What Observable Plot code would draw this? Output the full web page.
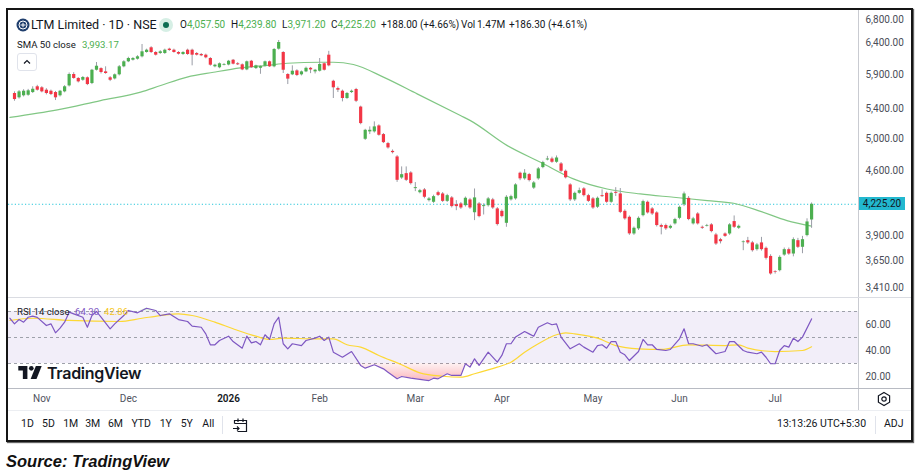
<!DOCTYPE html>
<html><head><meta charset="utf-8">
<script src="https://cdn.jsdelivr.net/npm/d3@7"></script>
<script src="https://cdn.jsdelivr.net/npm/@observablehq/plot@0.6"></script>
<style>
body{margin:0;background:#fff;width:916px;height:475px;position:relative;overflow:hidden;font-family:Roboto,"DejaVu Sans",sans-serif;color:#131722}
.abs{position:absolute;white-space:nowrap;line-height:1}
.g{color:#4caf50}
.tb{position:absolute;top:419px;font-size:10.5px;color:#131722;transform:translateX(-50%);line-height:1}
.hd{position:absolute;white-space:nowrap;line-height:1;top:20px;font-size:10px;color:#131722}
</style></head><body>
<div id="price" class="abs" style="left:8px;top:8px"></div>
<div id="rsi" class="abs" style="left:8px;top:298px"></div>
<div id="overlay"></div>
<script>
// ---------- data ----------
const open = [5620,5558,5587,5595,5634,5718,5703,5668,5653,5634, 5587,5644,5731,5902,5842,5815,5852,5766,5967,5992, 5942,5852,5835,5897,6020,6098,6123,6139,6177,6246, 6322,6246,6230,6230,6300,6283,6246,6214,6283,6283, 6230,6214,6203,6150,6020,6005,6045,6048,6123,6067, 6051,5972,6107,5992,5997,6029,6098,6020,6300,6246, 5902,5897,5957,5897,5942,5997,5942,5952,6067,6203, 5800,5692,5653,5548,5634,5678,5427,4995,5091,5091, 5170,5056,4940,4842,4773,4521,4572,4580,4399,4353, 4384,4265,4247,4353,4339,4257,4295,4221,4229,4210, 4273,4134,4229,4200,4210,4273,4175,4149,4023,4273, 4284,4577,4511,4561,4405,4511,4644,4736,4748,4708, 4688,4600,4441,4273,4346,4396,4320,4284,4193,4320, 4346,4247,4357,4339,4149,4086,3914,3966,4103,4247, 4175,4132,4000,4000,3972,4017,4075,4219,4290,4017, 4121,3982,3993,4007,3904,3857,3914,3914,4041,3972, 3828,3847,3825,3759,3825,3772,3694,3552,3561,3707, 3759,3717,3847,3782,3898,4057.5];
const high = [5644,5663,5675,5680,5718,5740,5720,5690,5670,5650, 5665,5735,5925,5930,5855,5870,5865,5980,6087,6005, 6020,5870,5910,6040,6115,6170,6165,6195,6376,6300, 6340,6260,6275,6300,6315,6300,6260,6260,6300,6300, 6245,6230,6220,6165,6060,6080,6070,6120,6135,6085, 6065,6110,6120,6045,6035,6110,6110,6310,6442,6260, 5915,6035,5975,5955,6015,6010,5980,6150,6080,6265, 5815,5715,5670,5635,5670,5695,5440,5125,5157,5224, 5185,5070,4955,4860,4790,4652,4652,4595,4468,4390, 4400,4300,4325,4370,4355,4335,4310,4265,4245,4305, 4290,4395,4245,4230,4300,4290,4190,4165,4320,4325, 4455,4590,4620,4575,4480,4645,4720,4780,4770,4785, 4705,4615,4455,4360,4405,4410,4335,4300,4305,4385, 4360,4360,4410,4400,4165,4100,3985,4090,4270,4260, 4190,4145,4015,4015,4005,4075,4205,4360,4310,4085, 4135,3995,4012,4020,3920,3870,3925,4020,4100,4005, 3845,3880,3840,3820,3880,3785,3710,3560,3700,3775, 3775,3875,3870,3890,4070,4239.8];
const low = [5509,5540,5570,5580,5620,5655,5630,5600,5590,5519, 5570,5630,5715,5830,5775,5800,5735,5750,5955,5910, 5905,5795,5820,5880,6005,6085,6110,6125,6160,6235, 6230,6190,6215,6215,6265,6235,6205,6200,6200,6035, 6190,6180,6145,6030,6005,5990,6035,6035,6050,6040, 5960,5960,5995,5980,5905,6015,6010,6005,6285,5917, 5751,5885,5870,5880,5930,5915,5910,5940,5955,6020, 5548,5634,5500,5535,5620,5490,5185,4980,5056,5075, 5035,4940,4870,4810,4470,4505,4480,4440,4365,4340, 4285,4250,4235,4310,4245,4245,4185,4156,4170,4195, 4170,4051,4080,4110,4195,4170,3995,4080,3982,4260, 4270,4490,4495,4475,4390,4495,4630,4725,4695,4695, 4585,4510,4255,4255,4335,4305,4245,4170,4180,4300, 4235,4235,4310,4125,4055,3900,3900,3950,4090,4120, 4105,3985,3905,3950,3960,4005,4060,4200,4050,4005, 4005,3960,3985,3925,3800,3815,3880,3900,3970,3960, 3749,3810,3735,3745,3745,3660,3520,3530,3550,3695, 3705,3690,3770,3720,3885,3971.2];
const close = [5533,5644,5653,5659,5682,5668,5644,5620,5605,5558, 5653,5718,5902,5842,5791,5857,5751,5967,6029,5932, 5917,5815,5897,6020,6098,6150,6150,6177,6257,6283, 6246,6203,6257,6283,6278,6246,6219,6246,6214,6203, 6203,6193,6161,6045,6045,6067,6056,6107,6061,6051, 5972,6098,6007,6035,6023,6098,6020,6294,6409,5967, 5832,5952,5887,5942,5997,5972,5967,6056,5967,6035, 5703,5668,5548,5620,5653,5509,5201,5112,5112,5157, 5047,4952,4885,4826,4494,4560,4494,4456,4410,4376, 4302,4284,4309,4323,4257,4320,4200,4200,4185,4291, 4185,4295,4093,4210,4284,4185,4010,4093,4302,4309, 4441,4511,4577,4491,4464,4628,4704,4748,4708,4760, 4600,4523,4273,4346,4376,4320,4257,4185,4291,4309, 4247,4346,4346,4138,4069,3915,3972,4075,4254,4132, 4121,4000,3982,3966,3992,4062,4192,4339,4062,4069, 4017,3972,4000,3938,3814,3837,3890,4007,3982,3992, 3835,3825,3749,3805,3759,3676,3531,3546,3685,3759, 3717,3857,3782,3857,4037.2,4225.2];

const smaIdx = [0,10.4,19.9,28.7,33.1,38.9,44.7,50.6,56.5,60.9,68.2,71,75.4,82,89.4,98.9,101.1,109.2,116.5,123.7,131.1,138.4,145.7,153.1,158.9,164.8,170.6,176];
const smaVal = [5285,5388,5519,5639,5737,5862,5936,6003,6043,6075,6091,6091,6056,5862,5615,5310,5241,4914,4708,4511,4395,4339,4302,4265,4236,4149,4051,3993.17];

const rsiIdx = [0,1,2,3,4,5,6,8,9,10,11,12,13,14,16,17,18,19,20,22,23,25,26,28,30,32,33,35,37,39,40,42,43,44,45,46,48,49,51,52,53,54,55,56,57,58,59,60,61,62,64,65,67,68,69,70,71,73,75,77,78,80,82,83,85,86,88,92,93,94,96,97,99,100,101,102,103,105,107,108,109,110,111,113,114,115,116,118,119,120,121,123,125,126,128,129,130,131,132,133,134,135,136,138,139,140,141,142,144,145,147,148,149,150,152,153,155,157,158,159,161,162,164,165,166,167,168,169,170,171,172,173,174,176];
const rsiVal = [64.8,60.5,63.8,61.8,65.6,66.4,65.5,59.2,60.5,53.6,57.2,61.8,69.5,68.2,65.6,57.9,66.9,70,65.6,56.7,60.5,66.9,70.8,69,72.5,70.8,66.9,68.2,63.8,62.3,58.7,57.9,52.8,44.4,44.4,47.7,51,46.9,41.8,51,45.9,46.9,44.4,52.1,48.5,60.5,65.6,45.2,41.3,45.2,43.8,47.7,49.5,51,47.7,50.3,38.7,34.8,39.2,28.5,26.4,29,25.9,23.3,18.2,20,18.7,16.9,18.7,18.2,22.1,20.8,20.8,29.8,27.2,33.6,28.5,38.7,31,36.2,45.2,45.2,50.3,54.6,52.8,51,57.9,61.3,59.8,60.5,50.3,41.3,45.2,42.6,38.7,43.8,44.4,41.8,46.9,46.9,38.7,36.7,32.3,39.2,48.5,44.4,44.4,40.8,40,40.8,49,56.7,45.2,45.2,43.3,44.4,37.5,39.2,46.9,46.9,40,38.7,37.5,38.7,34.8,29.8,29.8,40,43.8,42.6,49.5,46.9,50.3,64.3];

const maIdx = [0,5,13,24,29,33,37,40,45,49,54,57,60,67,71,74,77,81,86,90,95,99,102,107,110,113,116,120,122,124,129,133,138,143,149,157,160,162,168,174,176];
const maVal = [63.1,64.8,63.1,62.3,64.8,66.9,68.2,66.9,61.8,56.7,51,48.5,49.5,49,49,44.4,42.6,36.2,29,22.8,20.2,19.5,22.1,27.2,31,38.7,45.2,52.1,53.6,52.8,49.5,43.8,41.3,40.8,44.4,43.8,44.4,41.8,39.2,40,42.86];

const priceTicks = [6800,6400,5900,5400,5000,4600,3900,3650,3410];
const rsiTicks = [60,40,20];
const rsiLevels = [70,50,30];
const monthIdx = [7,26,68,89,108,128,147,168];
const monthLabels = ["Nov","Dec","Feb","Mar","Apr","May","Jun","Jul"];
const yearIdx = [48];
const yearLabels = ["2026"];
const lastPrice = 4225.20;

// ---------- tables ----------
const candles = close.map((c,k)=>({i:k+1,o:open[k],h:high[k],l:low[k],c}));
const up = candles.filter(d=>d.c>=d.o), dn = candles.filter(d=>d.c<d.o);
const sma = smaIdx.map((i,k)=>({i,v:smaVal[k]}));
const rsi = rsiIdx.map((i,k)=>({i,v:rsiVal[k]}));
const rsiMa = maIdx.map((i,k)=>({i,v:maVal[k]}));
const xDomain = [-0.317, 186.3];
const GREEN="#4caf50", RED="#f23645";

const pricePlot = Plot.plot({
  width:900, height:289, marginLeft:0, marginRight:50, marginTop:11, marginBottom:10,
  x:{domain:xDomain, axis:null},
  y:{type:"log", domain:[3410,6800], axis:null},
  style:{fontFamily:"Roboto", background:"transparent", overflow:"visible", color:"#50535e"},
  marks:[
    Plot.ruleY([lastPrice], {stroke:"#26c6da", strokeDasharray:"1.2,2.2", strokeWidth:1}),
    Plot.line(sma, {x:"i", y:"v", stroke:"#81c784", strokeWidth:1.2, curve:"monotone-x"}),
    Plot.ruleX(candles, {x:"i", y1:"l", y2:"h", stroke:"#9a9da6", strokeWidth:1}),
    Plot.ruleX(up, {x:"i", y1:"o", y2:"c", stroke:GREEN, strokeWidth:3.2}),
    Plot.ruleX(dn, {x:"i", y1:"o", y2:"c", stroke:RED, strokeWidth:3.2}),
    Plot.axisY(priceTicks, {anchor:"right", label:null, tickSize:0, tickPadding:7, tickFormat:d3.format(",.2f"), fontSize:10, fill:"#4a4d57"})
  ]
});
document.getElementById("price").appendChild(pricePlot);

const defsMark = () => {
  const d = document.createElementNS("http://www.w3.org/2000/svg","defs");
  d.innerHTML = '<linearGradient id="osGrad" x1="0" y1="0" x2="0" y2="1"><stop offset="0" stop-color="#f23645" stop-opacity="0.06"/><stop offset="1" stop-color="#f23645" stop-opacity="0.35"/></linearGradient>'+
                '<linearGradient id="obGrad" x1="0" y1="1" x2="0" y2="0"><stop offset="0" stop-color="#4caf50" stop-opacity="0.06"/><stop offset="1" stop-color="#4caf50" stop-opacity="0.35"/></linearGradient>';
  return d;
};

const rsiPlot = Plot.plot({
  width:900, height:112, marginLeft:0, marginRight:50, marginTop:0, marginBottom:22,
  x:{domain:xDomain, axis:null},
  y:{domain:[10.77,80], axis:null},
  style:{fontFamily:"Roboto", background:"transparent", overflow:"visible", color:"#50535e"},
  marks:[
    defsMark,
    Plot.rect([0], {x1:xDomain[0], x2:xDomain[1], y1:30, y2:70, fill:"#7e57c2", fillOpacity:0.1}),
    Plot.ruleY(rsiLevels, {stroke:"#9ea1aa", strokeDasharray:"3,3", strokeWidth:1}),
    Plot.areaY(rsi, {x:"i", y1:30, y2:d=>Math.min(d.v,30), fill:"url(#osGrad)"}),
    Plot.areaY(rsi, {x:"i", y1:70, y2:d=>Math.max(d.v,70), fill:"url(#obGrad)"}),
    Plot.line(rsiMa, {x:"i", y:"v", stroke:"#fdd835", strokeWidth:1.2, curve:"monotone-x"}),
    Plot.line(rsi, {x:"i", y:"v", stroke:"#7e57c2", strokeWidth:1.2}),
    Plot.axisY(rsiTicks, {anchor:"right", label:null, tickSize:0, tickPadding:7, tickFormat:d3.format(".2f"), fontSize:10, fill:"#4a4d57"}),
    Plot.axisX(monthIdx, {anchor:"bottom", label:null, tickSize:0, tickPadding:6, tickFormat:d=>monthLabels[monthIdx.indexOf(d)], fontSize:10, fill:"#50535e"}),
    Plot.axisX(yearIdx, {anchor:"bottom", label:null, tickSize:0, tickPadding:6, tickFormat:d=>yearLabels[yearIdx.indexOf(d)], fontSize:10, fontWeight:600, fill:"#131722"})
  ]
});
document.getElementById("rsi").appendChild(rsiPlot);

// ---------- overlay chrome ----------
const yLast = 8 + pricePlot.scale("y").apply(lastPrice);
const ov = document.getElementById("overlay");
ov.innerHTML = `
<div class="abs" style="left:858px;top:10px;width:1px;height:400px;background:#c9cbd1"></div>
<div class="abs" style="left:8px;top:297px;width:903px;height:1px;background:#dadce2"></div>
<div class="abs" style="left:8px;top:388px;width:903px;height:1px;background:#b8bbc3"></div>
<div class="abs" style="left:8px;top:410px;width:903px;height:1px;background:#eceef2"></div>
<div class="abs" style="left:222px;top:416px;width:1px;height:18px;background:#e0e3eb"></div>
<div class="abs" style="left:875px;top:416px;width:1px;height:18px;background:#e0e3eb"></div>
<div class="abs" style="left:859px;top:${yLast-6.5}px;width:46px;height:13px;background:#22b8cf;font-size:10px;line-height:13px;text-align:center;color:#131722">4,225.20</div>

<svg class="abs" style="left:16px;top:18px" width="14" height="14"><circle cx="7" cy="7" r="6.5" fill="#1f3e6d"/><circle cx="7" cy="7" r="4" fill="none" stroke="#fff" stroke-width="1"/><path d="M4.5 7h5M7 4.8v4.4" stroke="#fff" stroke-width="1"/></svg>
<div class="abs" style="left:31px;top:18.5px;font-size:12.5px;color:#131722">LTM Limited · 1D · NSE</div>
<svg class="abs" style="left:159px;top:18px" width="14" height="14"><circle cx="7" cy="7" r="7" fill="#d6efe5"/><circle cx="7" cy="7" r="3" fill="#0b6e52"/></svg>
<div class="hd" style="left:180px">O<span class="g">4,057.50</span></div>
<div class="hd" style="left:231px">H<span class="g">4,239.80</span></div>
<div class="hd" style="left:282px">L<span class="g">3,971.20</span></div>
<div class="hd" style="left:331px">C<span class="g">4,225.20</span></div>
<div class="hd g" style="left:381px">+188.00 (+4.66%)</div>
<div class="hd" style="left:461px">Vol</div>
<div class="hd g" style="left:477px">1.47M</div>
<div class="hd g" style="left:509px">+186.30 (+4.61%)</div>

<div class="abs" style="left:17px;top:40px;font-size:9.6px;color:#131722">SMA 50 close</div>
<div class="abs g" style="left:82px;top:40px;font-size:9.6px">3,993.17</div>
<div class="abs" style="left:17px;top:53px;width:20px;height:18px;border:1px solid #e0e3eb;border-radius:3px;box-sizing:border-box"></div>
<svg class="abs" style="left:22px;top:58px" width="10" height="8"><path d="M2 5.5L5 2.5L8 5.5" fill="none" stroke="#131722" stroke-width="1.2"/></svg>

<div class="abs" style="left:17px;top:306.5px;font-size:9.6px;color:#131722">RSI 14 close</div>
<div class="abs" style="left:75px;top:306.5px;font-size:9.6px;color:#7e57c2">64.30</div>
<div class="abs" style="left:104px;top:306.5px;font-size:9.6px;color:#f5c518">42.86</div>

<svg class="abs" style="left:18px;top:366px" width="24" height="13" viewBox="0 0 36 20"><path d="M0 0h14v20H7V7H0z" fill="#131722"/><circle cx="20" cy="3.6" r="3.6" fill="#131722"/><path d="M27 0h9l-8 20h-9z" fill="#131722"/></svg>
<div class="abs" style="left:47px;top:364.5px;font-family:Inter,Roboto,sans-serif;font-weight:600;font-size:16px;color:#131722;letter-spacing:-0.3px">TradingView</div>

<svg class="abs" style="left:876px;top:391px" width="16" height="16"><path d="M8 1.5L13.6 4.75V11.25L8 14.5L2.4 11.25V4.75Z" fill="none" stroke="#131722" stroke-width="1.2"/><circle cx="8" cy="8" r="2.2" fill="none" stroke="#131722" stroke-width="1.2"/></svg>

<div class="tb" style="left:27.5px">1D</div>
<div class="tb" style="left:48.5px">5D</div>
<div class="tb" style="left:70.7px">1M</div>
<div class="tb" style="left:92.7px">3M</div>
<div class="tb" style="left:115.5px">6M</div>
<div class="tb" style="left:141.2px">YTD</div>
<div class="tb" style="left:165.8px">1Y</div>
<div class="tb" style="left:186.8px">5Y</div>
<div class="tb" style="left:208.3px">All</div>
<svg class="abs" style="left:232px;top:417px" width="17" height="16"><path d="M2.5 6.5V3.5h12v11h-9" fill="none" stroke="#131722" stroke-width="1.2"/><path d="M2.5 6.5h12M6 1.5v3.5M11 1.5v3.5" stroke="#131722" stroke-width="1.2"/><path d="M1 11.5h6M5 9.5l2 2-2 2" fill="none" stroke="#131722" stroke-width="1.2"/></svg>
<div class="abs" style="left:777px;top:419px;font-size:10.5px;color:#131722">13:13:26 UTC+5:30</div>
<div class="abs" style="left:884px;top:419px;font-size:10.5px;color:#131722">ADJ</div>

<div class="abs" style="left:6px;top:8px;width:907px;height:434px;box-sizing:border-box;border:2px solid #151515;box-shadow:1px 1px 1px rgba(0,0,0,0.6)"></div>
<div class="abs" style="left:6px;top:453px;font-family:'Liberation Sans',Arial,sans-serif;font-weight:700;font-style:italic;font-size:16.5px;color:#111">Source: TradingView</div>
`;
</script>
</body></html>
